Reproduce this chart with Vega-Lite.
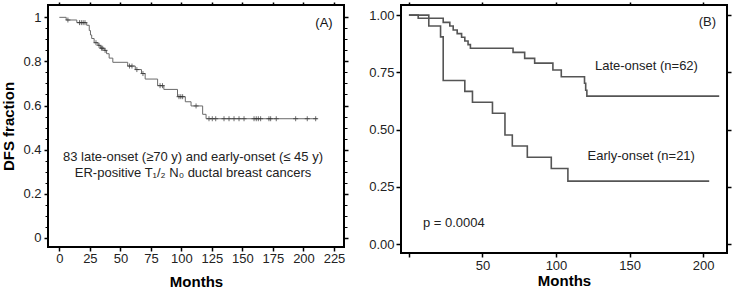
{
  "$schema": "https://vega.github.io/schema/vega-lite/v6.json",
  "padding": {"left": 0, "top": 0, "right": 0, "bottom": 0},
  "background": "white",
  "spacing": 17,
  "config": {
    "font": "Liberation Sans",
    "view": {"stroke": "black", "strokeWidth": 2},
    "axis": {
      "domain": false, "grid": false, "tickColor": "black", "tickWidth": 1.5, "tickSize": 4,
      "labelFont": "Liberation Sans", "labelFontSize": 13, "labelColor": "#222",
      "titleFont": "Liberation Sans", "titleFontSize": 15, "titleFontWeight": "bold", "titleColor": "black"
    },
    "text": {"font": "Liberation Sans", "fontSize": 13, "color": "#222"}
  },
  "datasets": {
    "kmA": [
      {"m": 0, "s": 1}, {"m": 5.6, "s": 0.988}, {"m": 14.3, "s": 0.976}, {"m": 22.4, "s": 0.964},
      {"m": 24.5, "s": 0.94}, {"m": 25.5, "s": 0.92}, {"m": 26.5, "s": 0.904}, {"m": 28.5, "s": 0.885},
      {"m": 31.6, "s": 0.873}, {"m": 33.6, "s": 0.86}, {"m": 36.7, "s": 0.85}, {"m": 38.7, "s": 0.835},
      {"m": 40.8, "s": 0.815}, {"m": 43.8, "s": 0.796}, {"m": 56, "s": 0.779}, {"m": 62.2, "s": 0.763},
      {"m": 67.3, "s": 0.745}, {"m": 70.3, "s": 0.72}, {"m": 80.5, "s": 0.69}, {"m": 85.6, "s": 0.673},
      {"m": 96.8, "s": 0.64}, {"m": 103.2, "s": 0.617}, {"m": 107.9, "s": 0.598}, {"m": 117.4, "s": 0.56},
      {"m": 120.2, "s": 0.54}, {"m": 211.5, "s": 0.54}
    ],
    "censA": [
      {"m": 7, "s": 0.988}, {"m": 16.5, "s": 0.976}, {"m": 18, "s": 0.976}, {"m": 19.5, "s": 0.976}, {"m": 21, "s": 0.976},
      {"m": 30, "s": 0.885}, {"m": 32.5, "s": 0.873}, {"m": 34.5, "s": 0.86}, {"m": 35.5, "s": 0.86}, {"m": 37.5, "s": 0.85},
      {"m": 57.5, "s": 0.779}, {"m": 59.5, "s": 0.779}, {"m": 63.5, "s": 0.763}, {"m": 68.5, "s": 0.745},
      {"m": 82.5, "s": 0.69}, {"m": 84.5, "s": 0.69}, {"m": 98, "s": 0.64}, {"m": 99.5, "s": 0.64}, {"m": 101, "s": 0.64},
      {"m": 112, "s": 0.598},
      {"m": 122.6, "s": 0.54}, {"m": 125.3, "s": 0.54}, {"m": 128.1, "s": 0.54}, {"m": 134.9, "s": 0.54},
      {"m": 139, "s": 0.54}, {"m": 143.1, "s": 0.54}, {"m": 147.2, "s": 0.54}, {"m": 151.3, "s": 0.54},
      {"m": 159.5, "s": 0.54}, {"m": 161.3, "s": 0.54}, {"m": 163, "s": 0.54}, {"m": 164.9, "s": 0.54},
      {"m": 171.7, "s": 0.54}, {"m": 173.1, "s": 0.54}, {"m": 177.7, "s": 0.54}, {"m": 193.6, "s": 0.54},
      {"m": 203.1, "s": 0.54}, {"m": 210, "s": 0.54}
    ],
    "txtA": [
      {"m": 109.5, "s": 0.366, "t": "83 late-onset (≥70 y) and early-onset (≤ 45 y)"},
      {"m": 109.5, "s": 0.294, "t": "ER-positive T₁/₂ N₀ ductal breast cancers"}
    ],
    "labA": [
      {"m": 216.8, "s": 0.974, "t": "(A)"}
    ],
    "kmB": [
      {"g": "late", "m": 0, "s": 1}, {"g": "late", "m": 6.3, "s": 0.986}, {"g": "late", "m": 23.3, "s": 0.968},
      {"g": "late", "m": 27.8, "s": 0.952}, {"g": "late", "m": 30.1, "s": 0.935}, {"g": "late", "m": 32.8, "s": 0.919},
      {"g": "late", "m": 35.8, "s": 0.903}, {"g": "late", "m": 38, "s": 0.887}, {"g": "late", "m": 40.2, "s": 0.871},
      {"g": "late", "m": 41.8, "s": 0.855}, {"g": "late", "m": 70.8, "s": 0.837}, {"g": "late", "m": 78.7, "s": 0.811},
      {"g": "late", "m": 85.5, "s": 0.79}, {"g": "late", "m": 97.9, "s": 0.76}, {"g": "late", "m": 103.6, "s": 0.731},
      {"g": "late", "m": 119.4, "s": 0.702}, {"g": "late", "m": 120.2, "s": 0.672}, {"g": "late", "m": 121, "s": 0.646},
      {"g": "late", "m": 211, "s": 0.646},
      {"g": "early", "m": 0, "s": 1}, {"g": "early", "m": 13.5, "s": 0.952}, {"g": "early", "m": 21.5, "s": 0.905},
      {"g": "early", "m": 23.3, "s": 0.714}, {"g": "early", "m": 38, "s": 0.667}, {"g": "early", "m": 43.2, "s": 0.619},
      {"g": "early", "m": 56.8, "s": 0.571}, {"g": "early", "m": 65.3, "s": 0.476}, {"g": "early", "m": 70.3, "s": 0.428},
      {"g": "early", "m": 80.5, "s": 0.379}, {"g": "early", "m": 96.8, "s": 0.33}, {"g": "early", "m": 108.1, "s": 0.275},
      {"g": "early", "m": 204.2, "s": 0.275}
    ],
    "txtB": [
      {"m": 203, "s": 0.969, "t": "(B)"},
      {"m": 161.5, "s": 0.777, "t": "Late-onset (n=62)"},
      {"m": 158, "s": 0.384, "t": "Early-onset (n=21)"}
    ],
    "pB": [
      {"m": 9.5, "s": 0.092, "t": "p = 0.0004"}
    ]
  },
  "hconcat": [
    {
      "width": 296,
      "height": 242,
      "layer": [
        {
          "data": {"name": "kmA"},
          "mark": {"type": "line", "interpolate": "step-after", "color": "#6a6a6a", "strokeWidth": 1},
          "encoding": {
            "x": {"field": "m", "type": "quantitative",
              "scale": {"domain": [-9.3, 233.2], "nice": false, "zero": false},
              "axis": {"orient": "bottom", "values": [0, 25, 50, 75, 100, 125, 150, 175, 200, 225], "format": "d",
                "title": "Months", "labelPadding": 1, "titlePadding": 9}},
            "y": {"field": "s", "type": "quantitative",
              "scale": {"domain": [-0.042, 1.056], "nice": false, "zero": false},
              "axis": {"orient": "left", "values": [0, 0.2, 0.4, 0.6, 0.8, 1], "format": "~g",
                "title": "DFS fraction", "labelPadding": 3, "titlePadding": 6}}
          }
        },
        {
          "data": {"name": "censA"},
          "mark": {"type": "point", "shape": "M-1,0L1,0M0,-1L0,1", "filled": false, "size": 25, "stroke": "#333", "strokeWidth": 1},
          "encoding": {
            "x": {"field": "m", "type": "quantitative",
              "scale": {"domain": [-9.3, 233.2], "nice": false, "zero": false},
              "axis": {"orient": "top", "values": [0, 25, 50, 75, 100, 125, 150, 175, 200, 225], "labels": false, "title": null, "tickSize": 3}},
            "y": {"field": "s", "type": "quantitative",
              "scale": {"domain": [-0.042, 1.056], "nice": false, "zero": false},
              "axis": {"orient": "right", "values": [0, 0.2, 0.4, 0.6, 0.8, 1], "labels": false, "title": null}}
          }
        },
        {
          "data": {"name": "txtA"},
          "mark": {"type": "text", "align": "center", "baseline": "middle"},
          "encoding": {
            "x": {"field": "m", "type": "quantitative",
              "scale": {"domain": [-9.3, 233.2], "nice": false, "zero": false}, "axis": null},
            "y": {"field": "s", "type": "quantitative",
              "scale": {"domain": [-0.042, 1.056], "nice": false, "zero": false},
              "axis": {"orient": "left", "values": [0.05, 0.1, 0.15, 0.25, 0.3, 0.35, 0.45, 0.5, 0.55, 0.65, 0.7, 0.75, 0.85, 0.9, 0.95],
                "labels": false, "title": null, "tickSize": 3, "tickWidth": 1}},
            "text": {"field": "t"}
          }
        },
        {
          "data": {"name": "labA"},
          "mark": {"type": "text", "align": "center", "baseline": "middle", "color": "#111"},
          "encoding": {
            "x": {"field": "m", "type": "quantitative",
              "scale": {"domain": [-9.3, 233.2], "nice": false, "zero": false}, "axis": null},
            "y": {"field": "s", "type": "quantitative",
              "scale": {"domain": [-0.042, 1.056], "nice": false, "zero": false},
              "axis": {"orient": "right", "values": [0.05, 0.1, 0.15, 0.25, 0.3, 0.35, 0.45, 0.5, 0.55, 0.65, 0.7, 0.75, 0.85, 0.9, 0.95],
                "labels": false, "title": null, "tickSize": 3, "tickWidth": 1}},
            "text": {"field": "t"}
          }
        }
      ],
      "resolve": {"scale": {"x": "independent", "y": "independent"}, "axis": {"x": "independent", "y": "independent"}}
    },
    {
      "width": 326,
      "height": 248,
      "layer": [
        {
          "data": {"name": "kmB"},
          "mark": {"type": "line", "interpolate": "step-after", "color": "#555", "strokeWidth": 1.6},
          "encoding": {
            "x": {"field": "m", "type": "quantitative",
              "scale": {"domain": [-5.4, 216.3], "nice": false, "zero": false},
              "axis": {"orient": "bottom", "values": [0, 50, 100, 150, 200], "format": "d",
                "labelExpr": "datum.value == 0 ? '' : datum.label",
                "title": "Months", "labelPadding": 2, "titlePadding": 1}},
            "y": {"field": "s", "type": "quantitative",
              "scale": {"domain": [-0.039, 1.044], "nice": false, "zero": false},
              "axis": {"orient": "left", "values": [0, 0.25, 0.5, 0.75, 1], "format": ".2f",
                "title": null, "labelPadding": 2, "tickSize": 5}},
            "detail": {"field": "g"}
          }
        },
        {
          "data": {"name": "txtB"},
          "mark": {"type": "text", "align": "center", "baseline": "middle"},
          "encoding": {
            "x": {"field": "m", "type": "quantitative",
              "scale": {"domain": [-5.4, 216.3], "nice": false, "zero": false},
              "axis": {"orient": "top", "values": [0, 50, 100, 150, 200], "labels": false, "title": null, "tickSize": 3}},
            "y": {"field": "s", "type": "quantitative",
              "scale": {"domain": [-0.039, 1.044], "nice": false, "zero": false},
              "axis": {"orient": "right", "values": [0, 0.25, 0.5, 0.75, 1], "labels": false, "title": null}},
            "text": {"field": "t"}
          }
        },
        {
          "data": {"name": "pB"},
          "mark": {"type": "text", "align": "left", "baseline": "middle"},
          "encoding": {
            "x": {"field": "m", "type": "quantitative",
              "scale": {"domain": [-5.4, 216.3], "nice": false, "zero": false}, "axis": null},
            "y": {"field": "s", "type": "quantitative",
              "scale": {"domain": [-0.039, 1.044], "nice": false, "zero": false}, "axis": null},
            "text": {"field": "t"}
          }
        }
      ],
      "resolve": {"scale": {"x": "independent", "y": "independent"}, "axis": {"x": "independent", "y": "independent"}}
    }
  ]
}
